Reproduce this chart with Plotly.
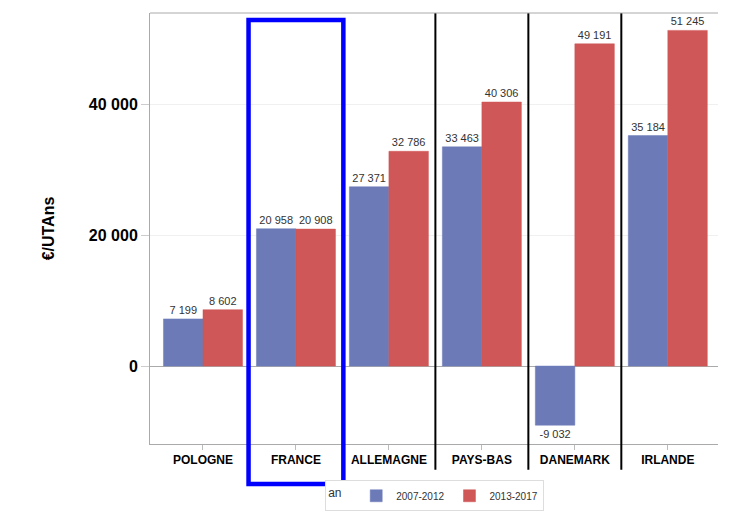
import plotly.graph_objects as go

categories = ["POLOGNE", "FRANCE", "ALLEMAGNE", "PAYS-BAS", "DANEMARK", "IRLANDE"]
series_names = ["2007-2012", "2013-2017"]
values_2007_2012 = [7199, 20958, 27371, 33463, -9032, 35184]
values_2013_2017 = [8602, 20908, 32786, 40306, 49191, 51245]
ytick_values = [0, 20000, 40000]
separator_positions = [2.5, 3.5, 4.5]

blue = "#6C7BB8"
red = "#D05757"
font_family = "Liberation Sans, Arial, sans-serif"

fig = go.Figure()
for name, vals, col in [(series_names[0], values_2007_2012, blue), (series_names[1], values_2013_2017, red)]:
    fig.add_trace(go.Bar(
        x=categories, y=vals, name=name,
        marker=dict(color=col, line=dict(color=col, width=0.5)),
        texttemplate="%{y:,}", textposition="outside",
        textfont=dict(size=11, color="#333333", family=font_family),
        cliponaxis=False,
    ))

for xp in separator_positions:
    fig.add_shape(type="line", xref="x", yref="paper", x0=xp, x1=xp, y0=1.0, y1=-0.06,
                  line=dict(color="black", width=2))

fig.add_shape(type="rect", xref="x", yref="paper", x0=0.49, x1=1.51, y0=-0.093, y1=0.984,
              line=dict(color="#0000FF", width=4.5), fillcolor="rgba(0,0,0,0)")

fig.update_layout(
    width=756, height=512,
    margin=dict(l=150, r=38, t=13, b=68, autoexpand=False),
    paper_bgcolor="white", plot_bgcolor="white",
    barmode="group", bargap=0.15, bargroupgap=0,
    separators=", ",
    font=dict(family=font_family, color="black"),
    showlegend=True,
    legend=dict(
        orientation="h", x=0.575, xanchor="center", xref="container",
        y=0.062, yanchor="top", yref="container",
        title=dict(text="an  ", side="left", font=dict(size=12, color="#333333")),
        font=dict(size=10, color="#333333"),
        bordercolor="#DDDDDD", borderwidth=1,
        itemwidth=30, tracegroupgap=0, valign="middle",
    ),
)
fig.update_xaxes(
    range=[-0.57, 5.54],
    showline=True, linecolor="#AAAAAA", linewidth=1, mirror=False,
    ticks="outside", ticklen=5, tickcolor="#BBBBBB",
    tickfont=dict(size=12, weight="bold", color="black"),
    showgrid=False,
)
fig.update_yaxes(
    range=[-11900, 53900],
    tickvals=ytick_values, tickformat=",",
    ticks="outside", ticklen=8, tickcolor="#CCCCCC",
    tickfont=dict(size=16, weight="bold", color="black"),
    showline=True, linecolor="#AAAAAA", linewidth=1,
    showgrid=True, gridcolor="#F0F0F0",
    zeroline=True, zerolinecolor="#AAAAAA", zerolinewidth=1,
    title=dict(text="€/UTAns", font=dict(size=16, weight="bold", color="black"), standoff=30),
)
# top border
fig.add_shape(type="line", xref="paper", yref="paper", x0=0, x1=1, y0=1, y1=1,
              line=dict(color="#AAAAAA", width=1))

fig.write_html("out.html")
